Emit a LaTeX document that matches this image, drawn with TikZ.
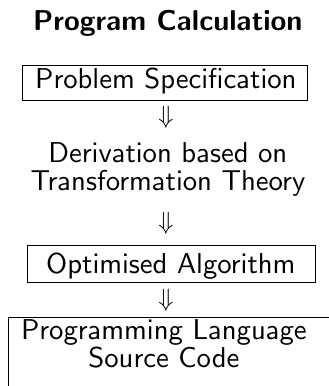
\documentclass[tikz,border=0pt]{standalone}
\usetikzlibrary{positioning}
% Computer Modern Sans at the 10pt design size, scaled up
\font\stagefont=cmss10 at 28.7pt
\font\headfont=cmssbx10 at 28.7pt
\tikzset{
  big/.style={font=\stagefont},
  stage/.style={draw, line width=0.8pt, inner sep=0pt},
  plain/.style={big, inner sep=0pt, align=center},
  darrow/.style={inner sep=0pt, font=\fontsize{30}{30}\selectfont},
}
\begin{document}
\begin{tikzpicture}[x=1pt, y=-1pt]
  \useasboundingbox (0,0) rectangle (329,386);
  \clip (0,0) rectangle (329,386);

  % heading
  \node[font=\headfont, anchor=base, inner sep=0pt]
    (title) at (168,30) {Program Calculation};

  % stages of the calculation
  \node[stage, minimum width=285pt, minimum height=35pt] (spec) at (164.5,82.5) {};
  \node[plain, anchor=base] (spectext) at (166,88.5) {Problem Specification};

  \node[darrow] (a1) at (166,117) {$\Downarrow$};

  \node[plain, anchor=base] (deriv1) at (168,162) {Derivation based on};
  \node[plain, anchor=base] (deriv2) at (168,190) {Transformation Theory};

  \node[darrow] (a2) at (166,223) {$\Downarrow$};

  \node[stage, minimum width=288pt, minimum height=37pt] (algo) at (171,263.5) {};
  \node[plain, anchor=base] (algotext) at (171,273) {Optimised Algorithm};

  \node[darrow] (a3) at (166,300) {$\Downarrow$};

  \node[stage, anchor=north west, minimum width=340pt, minimum height=90pt] (code) at (8,317) {};
  \node[plain, anchor=base] (code1) at (164,339) {Programming Language};
  \node[plain, anchor=base] (code2) at (164,367) {Source Code};
\end{tikzpicture}
\end{document}
